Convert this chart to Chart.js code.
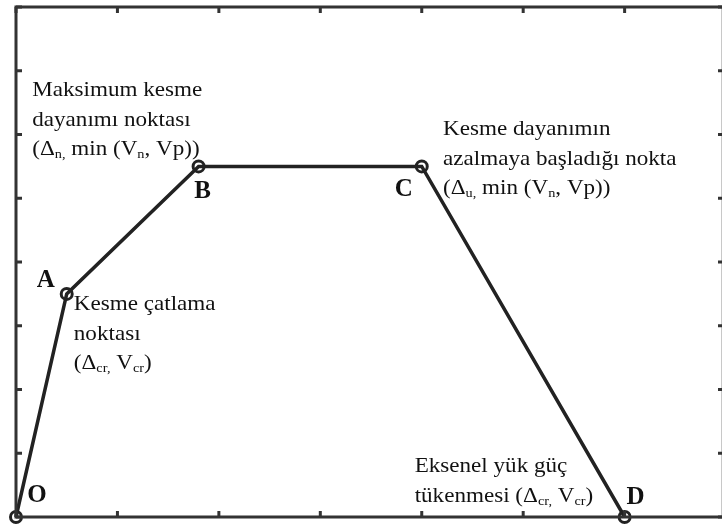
<!DOCTYPE html>
<html>
<head>
    <style>
        html, body {
            margin: 0;
            padding: 0;
            background: #ffffff;
            overflow: hidden;
        }
    </style>
    <script src="https://cdn.jsdelivr.net/npm/chart.js"></script>
</head>
<body>
    <canvas id="myChart" width="722" height="529"></canvas>
    <script>
        // points of the shear capacity curve
        var pointNames = ['O', 'A', 'B', 'C', 'D'];
        var xValues = [0, 0.5, 1.8, 4.0, 6.0];
        var yValues = [0, 3.5, 5.5, 5.5, 0];
        var xTicks = [0, 1, 2, 3, 4, 5, 6];
        var yTicks = [0, 1, 2, 3, 4, 5, 6, 7, 8];

        // annotation texts, each part: [text, isSubscript]
        var notes = [
            { x: 0.16, y: 6.6, lines: [
                [['Maksimum kesme']],
                [['dayanımı noktası']],
                [['(Δ'], ['n,', 1], [' min (V'], ['n', 1], [', Vp))']]
            ]},
            { x: 4.21, y: 5.99, lines: [
                [['Kesme dayanımın']],
                [['azalmaya başladığı nokta']],
                [['(Δ'], ['u,', 1], [' min (V'], ['n', 1], [', Vp))']]
            ]},
            { x: 0.57, y: 3.24, lines: [
                [['Kesme çatlama']],
                [['noktası']],
                [['(Δ'], ['cr,', 1], [' V'], ['cr', 1], [')']]
            ]},
            { x: 3.93, y: 0.70, lines: [
                [['Eksenel yük güç']],
                [['tükenmesi (Δ'], ['cr,', 1], [' V'], ['cr', 1], [')']]
            ]}
        ];
        // letter label offsets (px) from each point
        var letterOffsets = [[21, -21], [-21, -13], [4, 25], [-18, 23], [11, -19]];

        var pointData = xValues.map(function(v, i) { return { x: v, y: yValues[i] }; });

        var framePlugin = {
            id: 'frame',
            afterDraw: function(chart) {
                var c = chart.ctx;
                var a = chart.chartArea;
                var xs = chart.scales.x, ys = chart.scales.y;
                c.save();
                // faint right border
                c.strokeStyle = '#c8c8c8';
                c.lineWidth = 1;
                c.beginPath();
                c.moveTo(a.right - 0.5, a.top); c.lineTo(a.right - 0.5, a.bottom);
                c.stroke();

                c.strokeStyle = '#333';
                c.lineWidth = 3;
                c.beginPath();
                c.moveTo(a.right, a.top); c.lineTo(a.left, a.top);
                c.lineTo(a.left, a.bottom); c.lineTo(a.right, a.bottom);
                c.stroke();
                xTicks.forEach(function(t) {
                    var px = xs.getPixelForValue(t);
                    c.beginPath();
                    c.moveTo(px, a.bottom); c.lineTo(px, a.bottom - 6);
                    c.moveTo(px, a.top); c.lineTo(px, a.top + 6);
                    c.stroke();
                });
                yTicks.forEach(function(t) {
                    var py = ys.getPixelForValue(t);
                    c.beginPath();
                    c.moveTo(a.left, py); c.lineTo(a.left + 6, py);
                    c.moveTo(a.right, py); c.lineTo(a.right - 4, py);
                    c.stroke();
                });

                // letters
                c.fillStyle = '#111';
                c.font = 'bold 25px "Liberation Serif"';
                c.textAlign = 'center';
                c.textBaseline = 'middle';
                pointNames.forEach(function(n, i) {
                    var px = xs.getPixelForValue(xValues[i]) + letterOffsets[i][0];
                    var py = ys.getPixelForValue(yValues[i]) + letterOffsets[i][1];
                    c.fillText(n, px, py);
                });

                // notes
                c.textAlign = 'left';
                c.textBaseline = 'alphabetic';
                notes.forEach(function(note) {
                    var px0 = xs.getPixelForValue(note.x);
                    var py0 = ys.getPixelForValue(note.y);
                    note.lines.forEach(function(parts, li) {
                        c.save();
                        c.translate(px0, py0 + li * 29.5);
                        c.scale(1.1, 1);
                        var px = 0;
                        parts.forEach(function(p) {
                            if (p[1]) {
                                c.font = '13px "Liberation Serif"';
                                c.fillText(p[0], px, 3);
                            } else {
                                c.font = '21px "Liberation Serif"';
                                c.fillText(p[0], px, 0);
                            }
                            px += c.measureText(p[0]).width;
                        });
                        c.restore();
                    });
                });
                c.restore();
            }
        };

        var ctx = document.getElementById('myChart').getContext('2d');
        var myChart = new Chart(ctx, {
            type: 'scatter',
            data: {
                datasets: [{
                    data: pointData,
                    showLine: true,
                    borderColor: '#222',
                    borderWidth: 3.5,
                    pointRadius: 5.5,
                    pointBorderWidth: 3,
                    pointBackgroundColor: 'rgba(0,0,0,0)',
                    pointBorderColor: '#222',
                    clip: false
                }]
            },
            options: {
                responsive: false,
                animation: false,
                layout: { autoPadding: false, padding: { left: 16, top: 7, right: 0, bottom: 12 } },
                plugins: { legend: { display: false }, tooltip: { enabled: false } },
                scales: {
                    x: { type: 'linear', min: 0, max: 6.96, display: false },
                    y: { type: 'linear', min: 0, max: 8, display: false }
                }
            },
            plugins: [framePlugin]
        });
    </script>
</body>
</html>
